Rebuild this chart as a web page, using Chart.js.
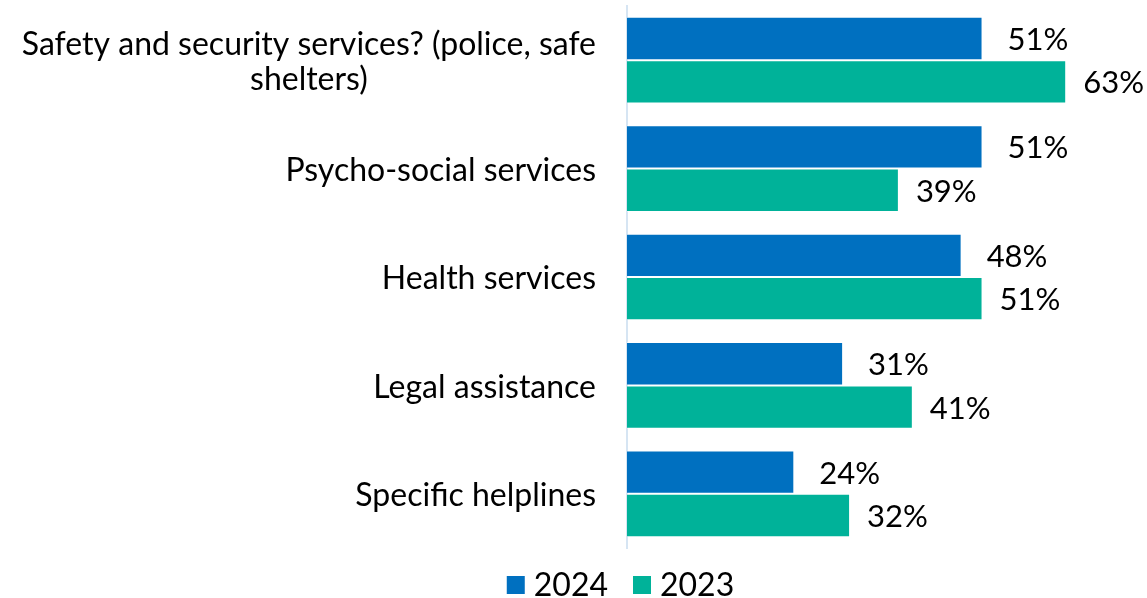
<!DOCTYPE html>
<html>
<head>
<meta charset="utf-8">
<script src="https://cdn.jsdelivr.net/npm/chart.js@4/dist/chart.umd.min.js"></script>
<style>
  html, body { margin: 0; padding: 0; background: #ffffff; }
  #wrap { width: 1147px; height: 598px; }
</style>
</head>
<body>
<div id="wrap"><canvas id="chart" width="1147" height="598"></canvas></div>
<script>
// Categories (multi-line labels as arrays)
const categories = [
  ["Safety and security services? (police, safe", "shelters)"],
  "Psycho-social services",
  "Health services",
  "Legal assistance",
  "Specific helplines"
];
const seriesNames = ["2024", "2023"];
const values2024 = [51, 51, 48, 31, 24];
const values2023 = [63, 39, 51, 41, 32];

const BLUE = "#0070C0";
const TEAL = "#00B299";
const FONT = "Lato, 'Noto Sans', sans-serif";

// Category labels: right edge aligned near the axis, lines centred on each other
const categoryLabels = {
  id: "categoryLabels",
  afterDraw(chart) {
    const ctx = chart.ctx;
    const yScale = chart.scales.y;
    const rightEdge = chart.chartArea.left - 31;
    const lineHeight = 35;
    ctx.save();
    ctx.font = "32px " + FONT;
    ctx.fillStyle = "#000000";
    ctx.textBaseline = "middle";
    ctx.textAlign = "center";
    categories.forEach((lab, i) => {
      const lines = Array.isArray(lab) ? lab : [lab];
      const maxW = Math.max(...lines.map(l => ctx.measureText(l).width));
      const cx = rightEdge - maxW / 2;
      const yc = yScale.getPixelForTick(i) + 2;
      const y0 = yc - (lines.length - 1) * lineHeight / 2;
      lines.forEach((l, k) => ctx.fillText(l, cx, y0 + k * lineHeight));
    });
    ctx.restore();
  }
};

// Value labels at the end of each bar
const valueLabels = {
  id: "valueLabels",
  afterDatasetsDraw(chart) {
    const ctx = chart.ctx;
    const offsets = [25, 17];
    ctx.save();
    ctx.font = "31px " + FONT;
    ctx.fillStyle = "#000000";
    ctx.textBaseline = "middle";
    ctx.textAlign = "left";
    chart.data.datasets.forEach((ds, di) => {
      const meta = chart.getDatasetMeta(di);
      meta.data.forEach((bar, i) => {
        ctx.fillText(ds.data[i] + "%", bar.x + offsets[di], bar.y + 1.5);
      });
    });
    ctx.restore();
  }
};

// Compact legend below the plot: square swatch, tight gap, series name
const compactLegend = {
  id: "compactLegend",
  afterDraw(chart) {
    const ctx = chart.ctx;
    const box = 18, gap = 9, spacing = 25;
    const centerX = 620.5, midY = 585;
    ctx.save();
    ctx.font = "32px " + FONT;
    ctx.textBaseline = "middle";
    ctx.textAlign = "left";
    const items = chart.data.datasets.map(ds => ({
      text: ds.label, color: ds.backgroundColor, w: ctx.measureText(ds.label).width
    }));
    const total = items.reduce((s, it) => s + box + gap + it.w, 0) + spacing * (items.length - 1);
    let x = centerX - total / 2;
    items.forEach(it => {
      ctx.fillStyle = it.color;
      ctx.fillRect(x, midY - box / 2, box, box);
      ctx.fillStyle = "#000000";
      ctx.fillText(it.text, x + box + gap, midY + 1);
      x += box + gap + it.w + spacing;
    });
    ctx.restore();
  }
};

new Chart(document.getElementById("chart"), {
  type: "bar",
  data: {
    labels: categories,
    datasets: [
      { label: seriesNames[0], data: values2024, backgroundColor: BLUE,
        borderColor: "rgba(255,255,255,0.55)", borderWidth: 1 },
      { label: seriesNames[1], data: values2023, backgroundColor: TEAL,
        borderColor: "rgba(255,255,255,0.55)", borderWidth: 1 }
    ]
  },
  options: {
    indexAxis: "y",
    responsive: false,
    animation: false,
    devicePixelRatio: 1,
    layout: { padding: { top: 6, right: 32, left: 0, bottom: 50 } },
    datasets: { bar: { categoryPercentage: 0.8, barPercentage: 1.0 } },
    scales: {
      x: {
        display: false,
        min: 0,
        max: 70
      },
      y: {
        grid: { display: false },
        border: { display: true, color: "#D6E5F3", width: 2 },
        ticks: { display: false },
        afterFit(scale) { scale.width = 627; }
      }
    },
    plugins: {
      legend: { display: false },
      tooltip: { enabled: false }
    }
  },
  plugins: [categoryLabels, valueLabels, compactLegend]
});
</script>
</body>
</html>
